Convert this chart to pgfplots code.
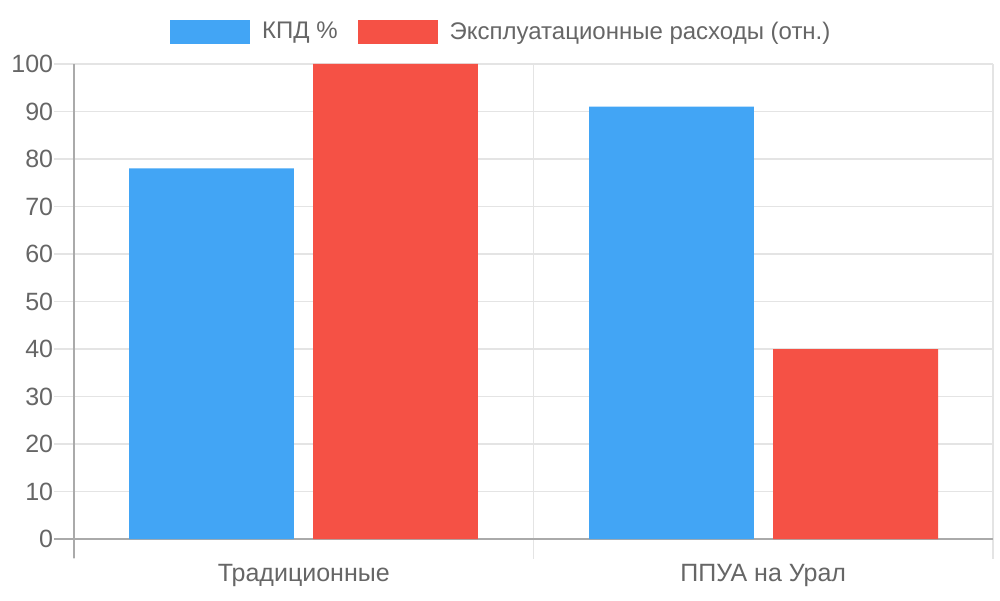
\documentclass[border=0pt]{standalone}
\usepackage{fontspec}
\setmainfont{Liberation Sans}
\usepackage{pgfplots}
\pgfplotsset{compat=1.18}
\definecolor{kpd}{HTML}{42A5F5}
\definecolor{cost}{HTML}{F55145}
\definecolor{txt}{HTML}{666666}
\definecolor{gridc}{HTML}{E4E4E4}
\definecolor{axc}{HTML}{AAAAAA}

\begin{document}
\begin{tikzpicture}
\useasboundingbox (0,0) rectangle (500pt,300pt);
\begin{axis}[
    at={(37pt,30.5pt)}, anchor=south west,
    scale only axis,
    width=459.5pt, height=237.5pt,
    xmin=0, xmax=2, ymin=0, ymax=100,
    axis lines*=left,
    axis line style={-, color=axc, line width=0.7pt},
    x axis line style={shorten <=-10pt},
    y axis line style={shorten <=-9.5pt},
    ybar, bar width=0.359, bar shift=0pt,
    xtick={0,1,2}, xticklabels={},
    ytick={0,10,...,100},
    grid=major,
    grid style={gridc, line width=0.6pt},
    tick align=outside,
    major tick length=9.75pt,
    x tick style={gridc, line width=0.6pt},
    y tick style={gridc, line width=0.6pt},
    extra x ticks={0.5,1.5},
    extra x tick labels={Традиционные, ППУА на Урал},
    extra x tick style={major tick length=0pt, grid=none,
        xticklabel style={yshift=-9.2pt}},
    tick label style={font=\fontsize{12.5}{14}\selectfont, text=txt},
    yticklabel style={inner sep=0.5pt},
    /pgf/number format/assume math mode=true,
    legend style={at={(axis description cs:0.466,1.067)}, anchor=center,
        draw=none, fill=none, legend columns=2,
        font=\fontsize{12}{14}\selectfont, text=txt,
        /tikz/every odd column/.append style={column sep=4pt},
        /tikz/every even column/.append style={column sep=8pt}},
    legend image code/.code={\fill[#1] (0pt,-6pt) rectangle (40pt,6pt);},
]
\addplot[fill=kpd, draw=none] coordinates {(0.2992,78) (1.3003,91)};
\addlegendentry{КПД \%}
\addplot[fill=cost, draw=none] coordinates {(0.6997,100) (1.7008,40)};
\addlegendentry{Эксплуатационные расходы (отн.)}
\end{axis}
\end{tikzpicture}
\end{document}
